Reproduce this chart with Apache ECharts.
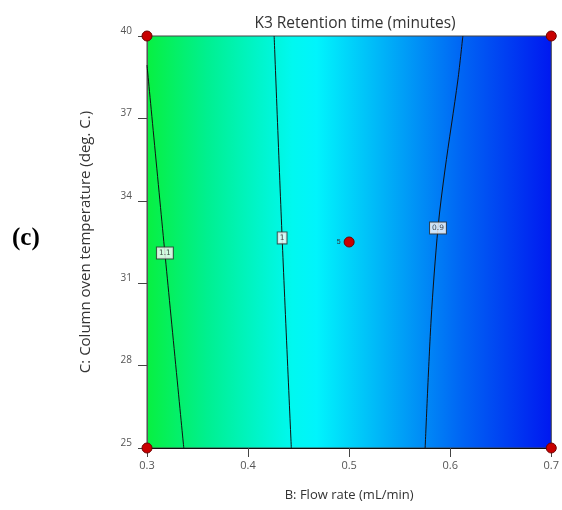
<!DOCTYPE html>
<html>
<head>
<meta charset="utf-8">
<script src="https://cdn.jsdelivr.net/npm/echarts@6/dist/echarts.min.js"></script>
<style>
  html, body { margin: 0; padding: 0; background: #fff; }
  #main { width: 562px; height: 510px; }
</style>
</head>
<body>
<div id="main"></div>
<script>
// 等高线数据 (B: flow rate, C: temperature)
var contour11 = [[0.3, 38.94], [0.3177, 32.1], [0.3364, 25]];
var contour10 = [[0.4258, 40], [0.4337, 32.65], [0.4428, 25]];
var contour09 = [[0.6125, 40], [0.6076, 38.4], [0.5948, 35.12], [0.5879, 33.01], [0.5811, 29.66], [0.5752, 25]];
// 等高线标签
var contourLabels = [
  { value: [0.3177, 32.1], name: '1.1' },
  { value: [0.4337, 32.65], name: '1' },
  { value: [0.5879, 33.01], name: '0.9' }
];
// 设计点
var designPoints = [[0.3, 25], [0.3, 40], [0.7, 25], [0.7, 40]];
var centerPoint = [0.5, 32.5];
var centerCount = '5';

(function(){
  var myChart = echarts.init(document.getElementById('main'));

  function contourLine(data) {
    return {
      type: 'line',
      data: data,
      smooth: 0.3,
      symbol: 'none',
      silent: true,
      lineStyle: { color: '#111', width: 1 },
      z: 3
    };
  }

  var option = {
    animation: false,
    title: {
      text: 'K3 Retention time (minutes)',
      left: 350,
      textAlign: 'center',
      top: 11,
      textStyle: { fontFamily: 'Open Sans', fontWeight: 'normal', fontSize: 15.5, color: '#333' }
    },
    grid: {
      left: 147,
      right: 8,
      top: 36,
      bottom: 62,
      show: true,
      borderColor: '#444',
      borderWidth: 1,
      backgroundColor: new echarts.graphic.LinearGradient(0, 0, 1, 0, [
        { offset: 0, color: '#08f040' },
        { offset: 0.15, color: '#00f090' },
        { offset: 0.36, color: '#00f8f0' },
        { offset: 0.42, color: '#00f4fc' },
        { offset: 0.58, color: '#00b4f8' },
        { offset: 0.78, color: '#0064f4' },
        { offset: 1, color: '#0018f0' }
      ])
    },
    xAxis: {
      type: 'value',
      min: 0.3,
      max: 0.7,
      interval: 0.1,
      name: 'B: Flow rate (mL/min)',
      nameLocation: 'middle',
      nameGap: 41,
      nameTextStyle: { fontFamily: 'Open Sans', fontSize: 13, color: '#333' },
      axisLine: { show: true, lineStyle: { color: '#111' } },
      axisTick: { show: true, length: 9, lineStyle: { color: '#444' } },
      splitLine: { show: false },
      axisLabel: {
        fontFamily: 'Open Sans', fontSize: 11, color: '#555', margin: 12,
        formatter: function (v) { return v.toFixed(1); }
      }
    },
    yAxis: {
      type: 'value',
      min: 25,
      max: 40,
      interval: 3,
      name: 'C: Column oven temperature (deg. C.)',
      nameLocation: 'middle',
      nameGap: 54,
      nameTextStyle: { fontFamily: 'Open Sans', fontSize: 15, color: '#333' },
      axisLine: { show: true, lineStyle: { color: '#555' } },
      axisTick: { show: true, length: 9, lineStyle: { color: '#444' } },
      splitLine: { show: false },
      axisLabel: { fontFamily: 'Open Sans', fontSize: 10, color: '#555', margin: 15, verticalAlign: 'bottom' }
    },
    graphic: [
      {
        type: 'text',
        left: 12,
        top: 226,
        style: { text: '(c)', font: 'bold 25px "Liberation Serif"', fill: '#000' }
      }
    ],
    series: [
      contourLine(contour11),
      contourLine(contour10),
      contourLine(contour09),
      {
        type: 'scatter',
        data: contourLabels,
        symbolSize: 0,
        silent: true,
        z: 4,
        label: {
          show: true,
          position: 'inside',
          formatter: function (p) { return p.name; },
          fontFamily: 'DejaVu Sans',
          fontSize: 7.5,
          color: '#222',
          backgroundColor: '#fff',
          borderColor: '#333',
          borderWidth: 1,
          padding: [2, 2, 1, 2]
        }
      },
      {
        type: 'scatter',
        data: designPoints,
        symbolSize: 10,
        z: 5,
        itemStyle: { color: '#c80000', borderColor: '#700000', borderWidth: 1, opacity: 1 }
      },
      {
        type: 'scatter',
        data: [centerPoint],
        symbolSize: 10,
        z: 5,
        itemStyle: { color: '#c80000', borderColor: '#700000', borderWidth: 1, opacity: 1 },
        label: {
          show: true,
          position: 'left',
          distance: 3,
          formatter: centerCount,
          fontSize: 7,
          color: '#333'
        }
      }
    ]
  };
  myChart.setOption(option);
  window.addEventListener("resize", function(){
    myChart.resize();
  });
})();
</script>
</body>
</html>
